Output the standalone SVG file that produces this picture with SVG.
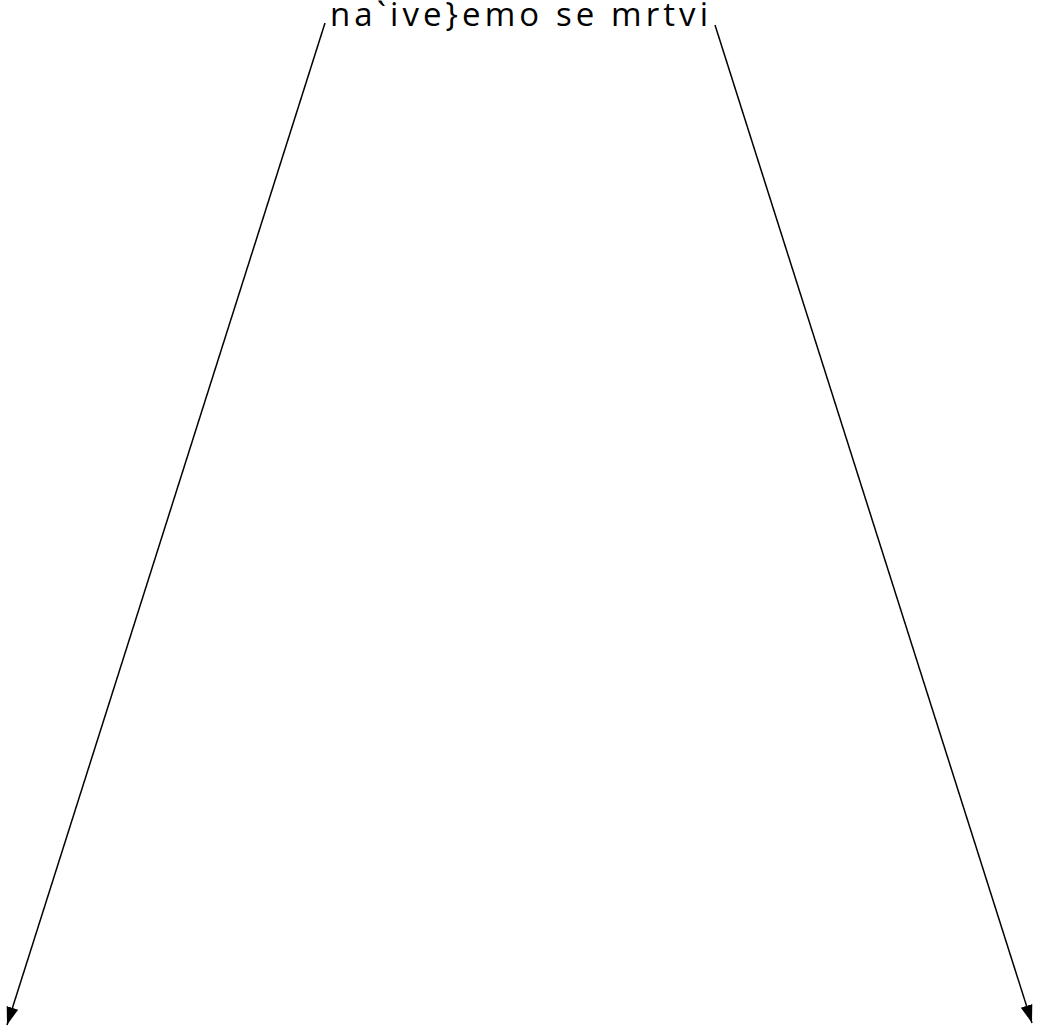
<svg xmlns="http://www.w3.org/2000/svg" width="1040" height="1027" viewBox="0 0 1040 1027">
<style>
.lbl{font-family:"Open Sans","Liberation Sans",sans-serif;font-size:33px;fill:#000}
.edge{stroke:#000;stroke-width:1.5;fill:none}
</style>
<defs>
<marker id="arr2" markerWidth="18" markerHeight="14" refX="18" refY="7" orient="auto" markerUnits="userSpaceOnUse" viewBox="0 0 18 14">
<path d="M0,1 L18,7 L0,13 z" fill="#000"/>
</marker>
</defs>
<rect width="1040" height="1027" fill="#fff"/>
<g id="node-root">
<text class="lbl" x="519" y="26" text-anchor="middle" textLength="378" lengthAdjust="spacing">na`ive}emo se mrtvi</text>
</g>
<g id="connectors">
<line class="edge" x1="325" y1="23" x2="7" y2="1025" marker-end="url(#arr2)"/>
<line class="edge" x1="715" y1="25" x2="1032" y2="1023" marker-end="url(#arr2)"/>
</g>
</svg>
